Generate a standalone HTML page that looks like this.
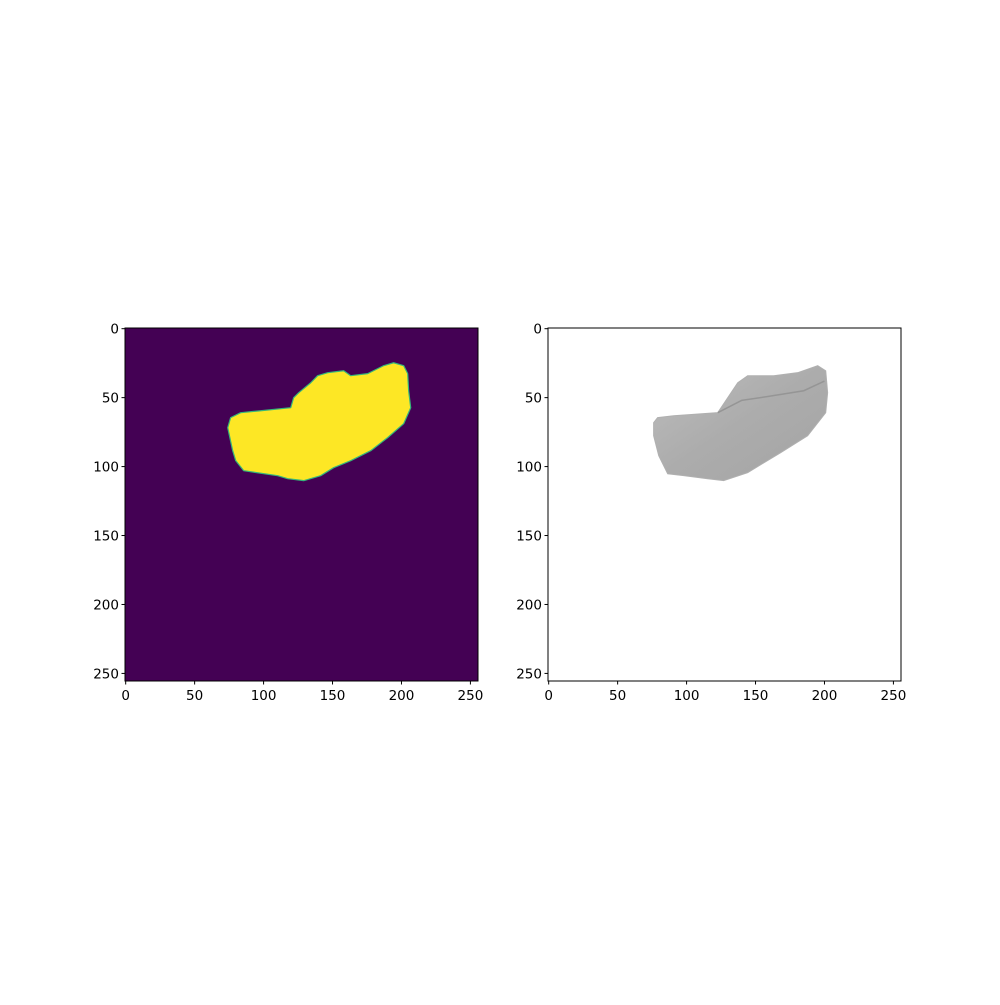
<!DOCTYPE html>
<html><head><meta charset="utf-8"><style>
body{margin:0;background:#fff;font-family:"Liberation Sans","DejaVu Sans",sans-serif}
svg text{font-family:"DejaVu Sans","Liberation Sans",sans-serif;font-size:13.5px;fill:#000}
</style></head><body>
<svg id="fig" width="1000" height="1000" viewBox="0 0 1000 1000">
<defs>
<linearGradient id="gray" x1="0" y1="0" x2="1" y2="1">
<stop offset="0" stop-color="#bdbdbd"/><stop offset="0.5" stop-color="#acacac"/><stop offset="1" stop-color="#a4a4a4"/>
</linearGradient>
</defs>
</svg>
<script>
const ticks=[0,50,100,150,200,250];
const maskX=[121.8,125.5,134.2,139.2,146.5,158.1,163.2,175.5,187.1,194.3,201.6,204.5,205.2,206.7,201.6,190,177.7,163.2,150.8,141.4,129.1,117.5,110.2,85.6,79.8,77.6,74,76.1,83.4,97.9,119.7];
const maskY=[50,46.4,39.2,34.1,31.9,30.5,34.1,32.6,26.8,24.7,26.8,32.6,45,57.3,68.9,79,88.5,95.7,100.8,106.6,110.2,108.8,106.6,103,95.7,88.5,71.8,64.5,60.9,59.5,57.3];
const rendX=[76.1,79,90.6,122.6,137.1,144.3,163.2,180.6,195.1,200.9,202.3,200.9,187.8,168.2,144.3,126.9,115.3,97.9,86.3,79.8,76.1];
const rendY=[68.2,64.5,63.1,60.9,39.2,34.1,34.1,31.9,26.8,30.5,46.4,60.9,77.6,89.9,104.4,110.2,108.8,106.6,105.2,92.1,77.6];
const ridgeX=[122.6,140,160,185,200];
const ridgeY=[60.9,52,49,45,38];

const NS='http://www.w3.org/2000/svg';
const svg=document.getElementById('fig');
function mk(t,a,p){const e=document.createElementNS(NS,t);for(const k in a)e.setAttribute(k,a[k]);(p||svg).appendChild(e);return e;}
const S=353/256, Y0=328;
function axes(x0,name){
  const g=mk('g',{});
  
  
  const sx=v=>x0+(v+0.5)*S, sy=v=>Y0+(v+0.5)*S;
  return {g,sx,sy,x0};
}
function frame(a){
  const r=mk('rect',{x:a.x0,y:Y0,width:353,height:353,fill:'none',stroke:'#000','stroke-width':1},a.g);
  
  
  ticks.forEach(t=>{
    const x=a.sx(t), y=a.sy(t);
    mk('line',{x1:x,x2:x,y1:Y0+353,y2:Y0+353+3.5,stroke:'#000'},a.g);
    const tx=mk('text',{x:x,y:Y0+353+19,'text-anchor':'middle'},a.g);tx.textContent=t;
    
    
    mk('line',{x1:a.x0-3.5,x2:a.x0,y1:y,y2:y,stroke:'#000'},a.g);
    const ty=mk('text',{x:a.x0-6,y:y+5,'text-anchor':'end'},a.g);ty.textContent=t;
    
    
  });
}
function pts(a,X,Y){return X.map((v,i)=>a.sx(v)+','+a.sy(Y[i])).join(' ');}

const L=axes(125,'mask-image-axes');
const bg=mk('rect',{x:125,y:Y0,width:353,height:353,fill:'#440154'},L.g);


const blob=mk('polygon',{points:pts(L,maskX,maskY),fill:'#fde725',stroke:'#35b779','stroke-width':1.2,'stroke-linejoin':'round'},L.g);


frame(L);

const R=axes(548,'render-image-axes');
const shape=mk('polygon',{points:pts(R,rendX,rendY),fill:'url(#gray)',stroke:'#b0b0b0','stroke-width':1},R.g);


const ridge=mk('polyline',{points:pts(R,ridgeX,ridgeY),fill:'none',stroke:'#959595','stroke-width':1.5},R.g);


frame(R);
</script>
</body></html>
